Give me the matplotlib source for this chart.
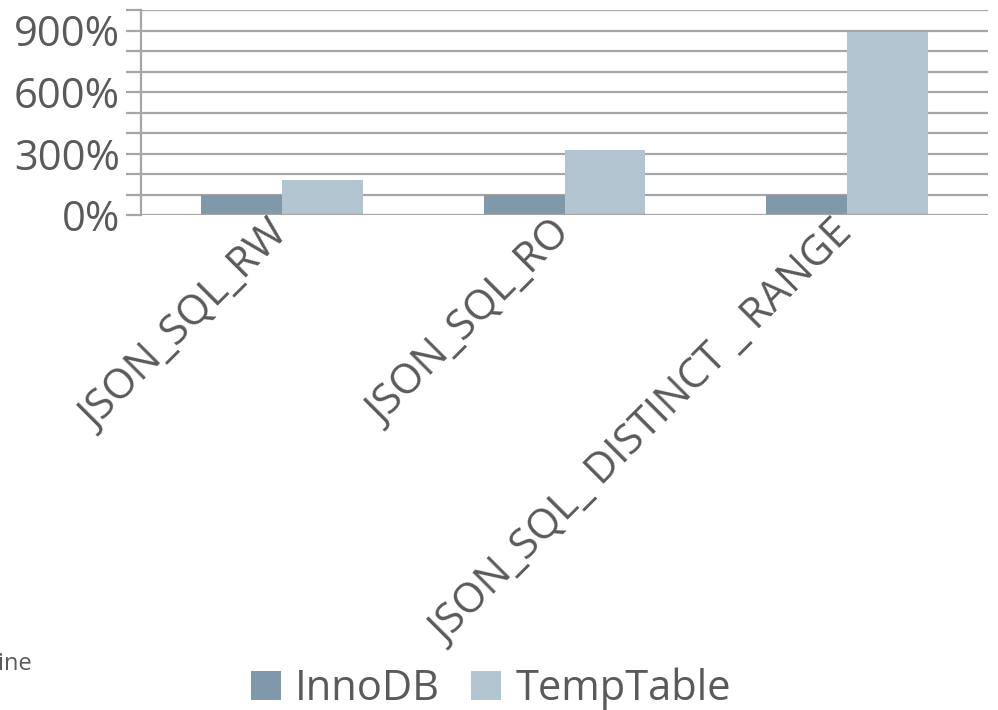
import matplotlib
matplotlib.use("Agg")
import matplotlib.pyplot as plt
from matplotlib.patches import Patch
import numpy as np

plt.rcParams['font.family'] = ['Open Sans', 'DejaVu Sans']

categories = ["JSON_SQL_RW", "JSON_SQL_RO", "JSON_SQL_ DISTINCT _ RANGE"]
innodb = [100, 100, 100]
temptable = [170, 317, 895]
series_names = ["InnoDB", "TempTable"]
y_ticks = [0, 300, 600, 900]
y_tick_labels = ["0%", "300%", "600%", "900%"]

TEXT = "#5a5a5a"
GRID = "#A6A6A6"
C_INNO = "#7F99AB"
C_TEMP = "#B3C5D1"

fig = plt.figure(figsize=(9.98, 7.10), dpi=100)
ax = fig.add_axes([0.1413, 1 - 215 / 710, 0.990 - 0.1413, (215 - 10) / 710])

x = np.arange(len(categories))
w = 0.286
ax.bar(x - w / 2, innodb, width=w, color=C_INNO, zorder=3)
ax.bar(x + w / 2, temptable, width=w, color=C_TEMP, zorder=3)

ax.set_xlim(-0.5, len(categories) - 0.5)
ax.set_ylim(0, 1000)

# horizontal gridlines every 100%
for v in range(100, 1001, 100):
    ax.axhline(v, color=GRID, lw=1.6, zorder=1)
ax.axhline(0, color=GRID, lw=1.6, zorder=4)

ax.set_yticks(range(0, 1001, 100))
ax.set_yticklabels([y_tick_labels[y_ticks.index(v)] if v in y_ticks else "" for v in range(0, 1001, 100)])
ax.tick_params(axis='y', length=11, width=1.6, color=GRID, labelsize=30, labelcolor=TEXT, pad=4)

ax.set_xticks(x)
ax.set_xticklabels(categories, rotation=45, ha='right', va='center', rotation_mode='anchor',
                   fontsize=30, color=TEXT)
ax.tick_params(axis='x', length=0, pad=10)

for s in ['top', 'right', 'bottom']:
    ax.spines[s].set_visible(False)
ax.spines['left'].set_color(GRID)
ax.spines['left'].set_linewidth(1.6)

handles = [Patch(facecolor=C_INNO, edgecolor='none'), Patch(facecolor=C_TEMP, edgecolor='none')]
fig.legend(handles, series_names, loc='center', bbox_to_anchor=(491 / 998, 1 - 689 / 710),
           ncol=2, frameon=False, fontsize=30, labelcolor=TEXT,
           handlelength=0.7, handleheight=0.7, handletextpad=0.35, columnspacing=0.75,
           borderpad=0, borderaxespad=0)

fig.text(32 / 998, 1 - 670 / 710, "Baseline", ha='right', va='baseline', fontsize=17, color=TEXT)

fig.savefig("out.png", dpi=100)
